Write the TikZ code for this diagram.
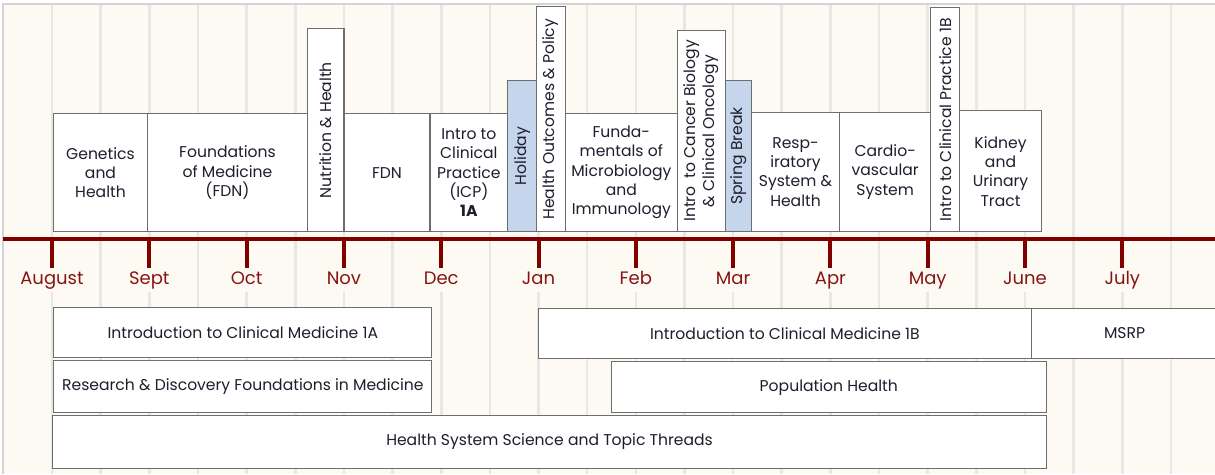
\documentclass[tikz,border=0pt]{standalone}
\usepackage{fontspec}
\setmainfont{Poppins}
\definecolor{cream}{RGB}{253,250,243}
\definecolor{gridc}{RGB}{231,231,229}
\definecolor{framec}{RGB}{212,212,212}
\definecolor{maroon}{RGB}{128,0,0}
\definecolor{mon}{RGB}{135,20,20}
\definecolor{boxgray}{RGB}{110,110,110}
\definecolor{holc}{RGB}{197,213,235}
\definecolor{txt}{RGB}{30,30,45}
\begin{document}
\begin{tikzpicture}[x=1pt,y=-1pt,
  box/.style={draw=boxgray, line width=1.1pt, fill=white, inner sep=1pt, align=center,
    font=\fontsize{15.6}{19.3}\selectfont, text=txt},
  tbox/.style={box, anchor=south},
  rbox/.style={box, rotate=90, anchor=west},
  holfill/.style={fill=holc},
  bbox/.style={box, anchor=north west},
  mlab/.style={font=\fontsize{18}{18}\selectfont, text=mon, fill=cream, anchor=north,
    text height=14pt, text depth=5pt, inner sep=2.5pt},
  tickln/.style={draw=maroon, line width=4pt},
  gridln/.style={draw=gridc, line width=2.6pt},
]
\useasboundingbox (0,0) rectangle (1215,474);
\fill[white] (0,0) rectangle (1215,474);
\fill[cream] (3,4) rectangle (1215,474);
\draw[framec, line width=2pt] (3,474) -- (3,4) -- (1215,4);
% grid
\foreach \k in {0,...,23} \draw[gridln] ({52+48.65*\k},5) -- ({52+48.65*\k},474);
% bar
\draw[maroon, line width=4pt] (3,239.3) -- (1215,239.3);
% months
\foreach \m [count=\i from 0] in {August,Sept,Oct,Nov,Dec,Jan,Feb,Mar,Apr,May,June,July} {
  \pgfmathsetmacro\xx{52+97.3*\i}
  \coordinate (t\i) at (\xx,239.3);
  \node[mlab] (m\i) at (\xx,267.7) {\m};
  \draw[tickln] (t\i) -- (m\i.north);
}
% top boxes
\node[tbox, minimum width=94.4pt, minimum height=118.3pt] (gen) at (100.5,232.3) {Genetics\\and\\Health};
\node[tbox, minimum width=159.6pt, minimum height=118.3pt] (fom) at (227.5,232.3) {Foundations\\of Medicine\\(FDN)};
\node[rbox, minimum width=203pt, minimum height=36.7pt] (nut) at (325.65,232.3) {Nutrition \& Health};
\node[tbox, minimum width=86pt, minimum height=118.3pt] (fdn) at (387,232.3) {FDN};
\node[tbox, minimum width=77.7pt, minimum height=118.3pt] (icpa) at (468.85,232.3) {Intro to\\Clinical\\Practice\\(ICP)\\\textbf{1A}};
\node[rbox, holfill, minimum width=151.3pt, minimum height=29pt] (hol) at (522.2,232.3) {Holiday};
\node[rbox, minimum width=225pt, minimum height=28.6pt] (hop) at (551,232.3) {Health Outcomes \& Policy};
\node[tbox, minimum width=112pt, minimum height=118.3pt] (fmi) at (621.3,232.3) {Funda-\\mentals of\\Microbiology\\and\\Immunology};
\node[rbox, minimum width=201.6pt, minimum height=48pt] (icb) at (701.3,232.3) {Intro\ \ to Cancer Biology\\\& Clinical Oncology};
\node[rbox, holfill, minimum width=151.3pt, minimum height=26pt] (spb) at (738.3,232.3) {Spring Break};
\node[tbox, minimum width=88.4pt, minimum height=119.6pt] (res) at (795.5,232.3) {Resp-\\iratory\\System \&\\Health};
\node[tbox, minimum width=91pt, minimum height=119.6pt] (car) at (885.2,232.3) {Cardio-\\vascular\\System};
\node[rbox, minimum width=224pt, minimum height=29pt] (icpb) at (945.2,232.3) {Intro to Clinical Practice 1B};
\node[tbox, minimum width=81.6pt, minimum height=121pt] (kid) at (1000.5,232.3) {Kidney\\and\\Urinary\\Tract};
% bottom boxes
\node[bbox, minimum width=378pt, minimum height=50.3pt] (icma) at (53.3,306.7) {Introduction to Clinical Medicine 1A};
\node[bbox, minimum width=378pt, minimum height=52pt] (rdf) at (53.3,360) {Research \& Discovery Foundations in Medicine};
\node[bbox, minimum width=993.4pt, minimum height=53.6pt] (hss) at (52.3,414.7) {Health System Science and Topic Threads};
\node[bbox, minimum width=493.3pt, minimum height=50.3pt] (icmb) at (537.7,307.7) {Introduction to Clinical Medicine 1B};
\node[bbox, minimum width=186pt, minimum height=50.3pt] (msrp) at (1031,307.7) {MSRP};
\node[bbox, minimum width=435pt, minimum height=51pt] (poph) at (610.7,361.3) {Population Health};
\end{tikzpicture}
\end{document}
